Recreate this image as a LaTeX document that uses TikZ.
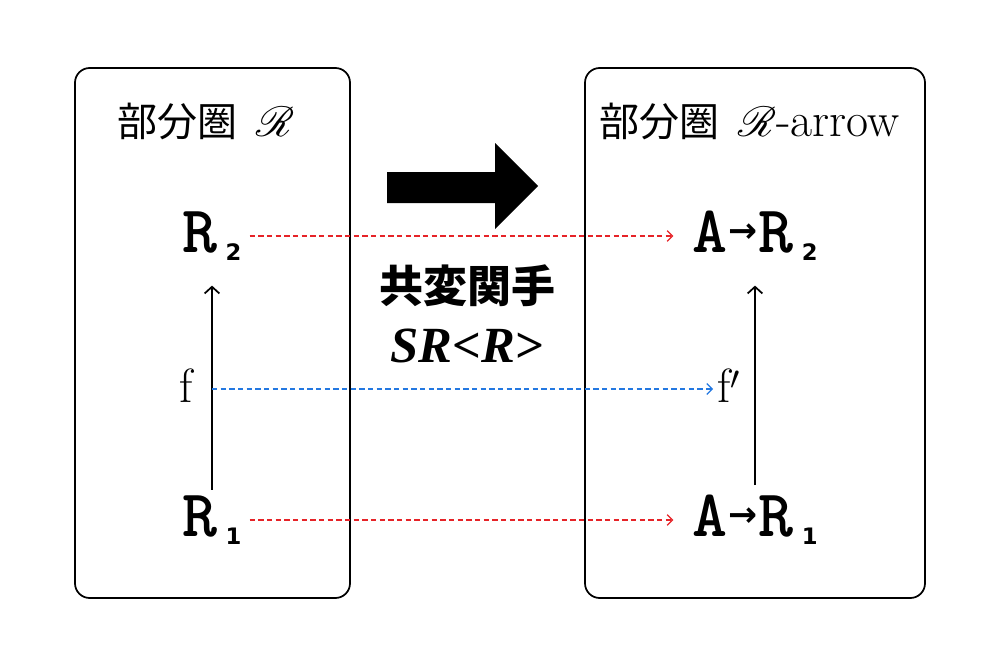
\documentclass[tikz,border=0pt]{standalone}
\usepackage{graphicx}
\usepackage{fontspec}
\usepackage{mathrsfs}
\usetikzlibrary{arrows.meta}
\newfontfamily\cjk{Noto Sans CJK JP}
\newfontfamily\djv{DejaVu Sans}
\newfontfamily\libser{Liberation Serif}
\definecolor{dred}{RGB}{230,35,40}
\definecolor{dblue}{RGB}{35,120,225}
\newcommand{\monoR}{{\fontsize{50}{50}\selectfont\ttfamily\bfseries R}}
\newcommand{\monoA}{{\fontsize{50}{50}\selectfont\ttfamily\bfseries A}}
\newcommand{\subdig}[1]{\hspace{6pt}\raisebox{-6pt}{\fontsize{17}{17}\selectfont\djv\bfseries #1}}
\newcommand{\smallarrow}{\hspace{1pt}\raisebox{7pt}{\fontsize{26}{26}\selectfont\djv\bfseries →}\hspace{1pt}}
\newcommand{\bigscrR}{\scalebox{1.27}{$\mathscr{R}$}}
\begin{document}
\begin{tikzpicture}[x=0.75pt,y=-0.75pt,
  panel/.style={draw, line width=1.3pt, rounded corners=11pt},
  obj/.style={inner sep=0pt, text height=30pt, text depth=6pt},
  ttl/.style={inner sep=0pt, anchor=base west, font=\fontsize{30}{30}\selectfont},
  lbl/.style={inner sep=0pt, text height=19.5pt, text depth=0pt, font=\fontsize{36}{36}\selectfont},
  morph/.style={line width=1.3pt, -{Straight Barb[length=5pt,width=11pt]}},
  redmap/.style={dred, line width=0.9pt, dash pattern=on 4pt off 2.5pt, -{Straight Barb[length=4pt,width=8pt]}},
  bluemap/.style={dblue, line width=0.9pt, dash pattern=on 4pt off 2.5pt, -{Straight Barb[length=4pt,width=8pt]}}]
\useasboundingbox (0,0) rectangle (1000,667);

% panels
\draw[panel] (75,68) rectangle (350,598);
\draw[panel] (585,68) rectangle (925,598);

% titles
\node[ttl] (tL) at (117,137) {{\cjk 部分圏}\hspace{14pt}{\fontsize{36}{36}\selectfont\bigscrR}};
\node[ttl] (tR) at (599,137) {{\cjk 部分圏}\hspace{14pt}{\fontsize{36}{36}\selectfont\bigscrR-arrow}};

% objects
\node[obj] (R2) at (212,236) {\monoR\subdig{2}};
\node[obj] (R1) at (212,520) {\monoR\subdig{1}};
\node[obj] (AR2) at (755,236) {\monoA\smallarrow\monoR\subdig{2}};
\node[obj] (AR1) at (755,520) {\monoA\smallarrow\monoR\subdig{1}};

% morphism labels
\node[lbl, anchor=base] (f) at (186,402) {f};
\node[lbl, anchor=base west] (fp) at (717,402) {f$'$};

% vertical morphisms
\draw[morph] ([yshift=4.5pt]R1.north) -- ([yshift=-19pt]R2.south);
\draw[morph] ([yshift=8pt]AR1.north) -- ([yshift=-19pt]AR2.south);

% functor
\fill (387,172) -- (495,172) -- (495,143) -- (538,186) -- (495,229) -- (495,203) -- (387,203) -- cycle;
\node[inner sep=0pt, font=\fontsize{33}{33}\selectfont\cjk\bfseries] (fun) at (467,286) {共変関手};
\node[inner sep=0pt, font=\fontsize{38}{38}\selectfont\libser\bfseries\itshape] (sr) at (467,346) {SR<R>};

% mapped arrows
\draw[redmap, shorten <=6pt, shorten >=14pt] (R2.east) -- (AR2.west);
\draw[redmap, shorten <=6pt, shorten >=14pt] (R1.east) -- (AR1.west);
\draw[bluemap, shorten >=3pt] (R1 |- fp) -- (fp.west);
\end{tikzpicture}
\end{document}
